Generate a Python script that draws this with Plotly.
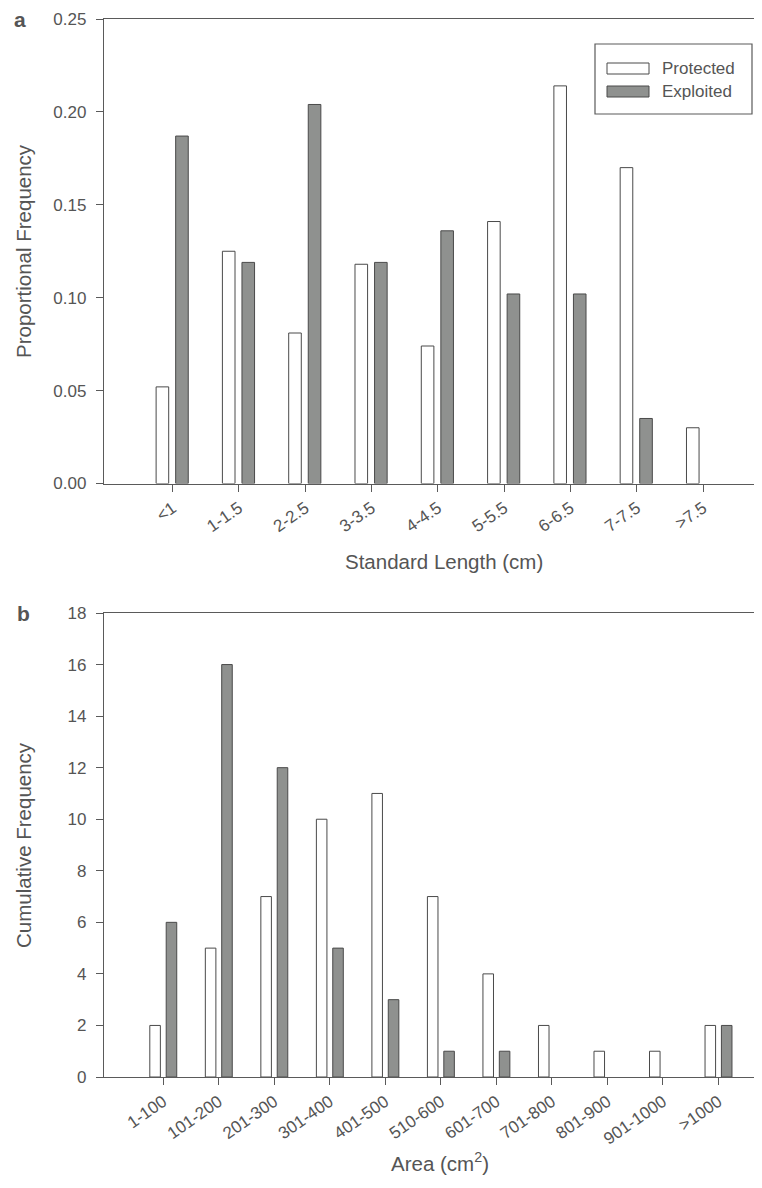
import plotly.graph_objects as go

# ---- data ----
length_classes = ["<1", "1-1.5", "2-2.5", "3-3.5", "4-4.5", "5-5.5", "6-6.5", "7-7.5", ">7.5"]
length_protected = [0.052, 0.125, 0.081, 0.118, 0.074, 0.141, 0.214, 0.170, 0.030]
length_exploited = [0.187, 0.119, 0.204, 0.119, 0.136, 0.102, 0.102, 0.035, 0.0]

area_classes = ["1-100", "101-200", "201-300", "301-400", "401-500", "510-600",
                "601-700", "701-800", "801-900", "901-1000", ">1000"]
area_protected = [2, 5, 7, 10, 11, 7, 4, 2, 1, 1, 2]
area_exploited = [6, 16, 12, 5, 3, 1, 1, 0, 0, 0, 2]

series_names = ["Protected", "Exploited"]

# ---- style ----
W, H = 762, 1188
OFF = 8  # page body margin compensation
TXT = "#555555"
LINE = "#5a5a5a"
BAR_LINE = "#4a4a4a"
FILL_PROT = "white"
FILL_EXP = "#8f918f"
FONT = "Liberation Sans, Arial, sans-serif"
TICK_SIZE = 17
TITLE_SIZE = 20.5
BW = 0.19


def fx(p):
    return (p - OFF) / W


def fy(p):
    return 1 - (p - OFF) / H


def outline(values):
    # no outline for empty (zero-height) bars
    return [1 if v > 0 else 0 for v in values]


fig = go.Figure()

fig.add_trace(go.Bar(x=length_classes, y=length_protected, name=series_names[0],
                     width=BW, offset=-0.25, showlegend=False,
                     marker=dict(color=FILL_PROT, line=dict(color=BAR_LINE, width=outline(length_protected))),
                     xaxis="x", yaxis="y"))
fig.add_trace(go.Bar(x=length_classes, y=length_exploited, name=series_names[1],
                     width=BW, offset=0.045, showlegend=False,
                     marker=dict(color=FILL_EXP, line=dict(color=BAR_LINE, width=outline(length_exploited))),
                     xaxis="x", yaxis="y"))
fig.add_trace(go.Bar(x=area_classes, y=area_protected, name=series_names[0],
                     width=BW, offset=-0.24, showlegend=False,
                     marker=dict(color=FILL_PROT, line=dict(color=BAR_LINE, width=outline(area_protected))),
                     xaxis="x2", yaxis="y2"))
fig.add_trace(go.Bar(x=area_classes, y=area_exploited, name=series_names[1],
                     width=BW, offset=0.055, showlegend=False,
                     marker=dict(color=FILL_EXP, line=dict(color=BAR_LINE, width=outline(area_exploited))),
                     xaxis="x2", yaxis="y2"))

xcommon = dict(type="category", showline=True, linecolor=LINE, linewidth=1.3,
               mirror=True, ticks="outside", ticklen=7, tickcolor=LINE,
               tickangle=-35, tickfont=dict(size=TICK_SIZE, color=TXT, family=FONT),
               showgrid=False, zeroline=False, automargin=False, fixedrange=True)
ycommon = dict(showline=True, linecolor=LINE, linewidth=1.3, mirror=False,
               ticks="outside", ticklen=7, tickcolor=LINE,
               tickfont=dict(size=TICK_SIZE, color=TXT, family=FONT),
               showgrid=False, zeroline=False, ticklabelstandoff=6,
               automargin=False, fixedrange=True)

# manual legend (box, swatches, labels)
shapes = [
    dict(type="rect", xref="paper", yref="paper", x0=fx(595), x1=fx(752),
         y0=fy(114), y1=fy(44), line=dict(color=LINE, width=1.2), fillcolor="white", layer="above"),
    dict(type="rect", xref="paper", yref="paper", x0=fx(607), x1=fx(649),
         y0=fy(74), y1=fy(63), line=dict(color=BAR_LINE, width=1), fillcolor=FILL_PROT, layer="above"),
    dict(type="rect", xref="paper", yref="paper", x0=fx(607), x1=fx(649),
         y0=fy(97), y1=fy(86), line=dict(color=BAR_LINE, width=1), fillcolor=FILL_EXP, layer="above"),
]

annotations = [
    dict(text=series_names[0], x=fx(660), y=fy(68.5), xanchor="left", yanchor="middle"),
    dict(text=series_names[1], x=fx(660), y=fy(91.5), xanchor="left", yanchor="middle"),
    dict(text="<b>a</b>", x=fx(20), y=fy(19), xanchor="center", yanchor="middle",
         font=dict(size=21, color=TXT, family=FONT)),
    dict(text="<b>b</b>", x=fx(23), y=fy(613), xanchor="center", yanchor="middle",
         font=dict(size=21, color=TXT, family=FONT)),
    dict(text="Standard Length (cm)", x=fx(444), y=fy(561), xanchor="center", yanchor="middle",
         font=dict(size=TITLE_SIZE, color=TXT, family=FONT)),
    dict(text="Area (cm<sup>2</sup>)", x=fx(440), y=fy(1162), xanchor="center", yanchor="middle",
         font=dict(size=TITLE_SIZE, color=TXT, family=FONT)),
    dict(text="Proportional Frequency", x=fx(23), y=fy(251), xanchor="center", yanchor="middle",
         textangle=-90, font=dict(size=TITLE_SIZE, color=TXT, family=FONT)),
    dict(text="Cumulative Frequency", x=fx(23), y=fy(845), xanchor="center", yanchor="middle",
         textangle=-90, font=dict(size=TITLE_SIZE, color=TXT, family=FONT)),
]
for a in annotations:
    a.setdefault("xref", "paper")
    a.setdefault("yref", "paper")
    a.setdefault("showarrow", False)
    a.setdefault("font", dict(size=TICK_SIZE, color=TXT, family=FONT))

fig.update_layout(
    width=W, height=H, autosize=False,
    margin=dict(l=0, r=0, t=0, b=0, pad=0, autoexpand=False),
    paper_bgcolor="white", plot_bgcolor="white",
    barmode="overlay",
    showlegend=False,
    font=dict(family=FONT, color=TXT),
    xaxis=dict(xcommon, domain=[fx(104), 1], anchor="y", range=[-1.036, 9.01]),
    yaxis=dict(ycommon, domain=[fy(483.5), fy(19)], anchor="x", range=[0, 0.25],
               dtick=0.05, tickformat=".2f"),
    xaxis2=dict(xcommon, domain=[fx(104), 1], anchor="y2", range=[-1.065, 10.93]),
    yaxis2=dict(ycommon, domain=[fy(1077), fy(613)], anchor="x2", range=[0, 18], dtick=2),
    shapes=shapes,
    annotations=annotations,
)

fig.write_html("out.html", config={"displayModeBar": False})
